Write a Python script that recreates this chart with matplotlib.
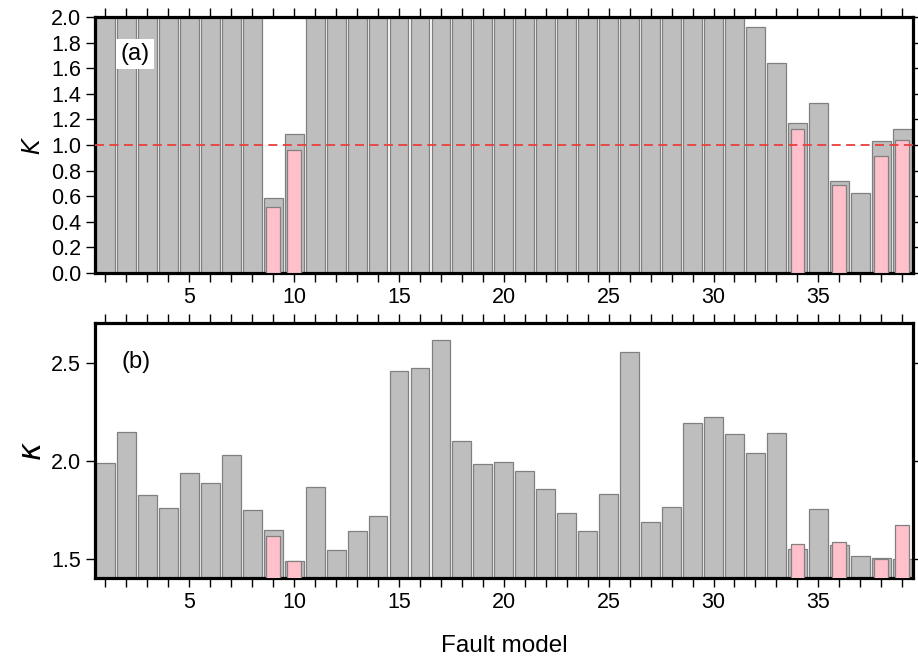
import matplotlib
matplotlib.use("Agg")
import matplotlib.pyplot as plt
import numpy as np

plt.rcParams['font.family'] = ['Liberation Sans', 'DejaVu Sans']

models = list(range(1, 40))

# Panel (a): K values (bars reaching the top are clipped above 2.0)
K_gray = [2.5, 2.5, 2.5, 2.5, 2.5, 2.5, 2.5, 2.5, 0.587, 1.084,
          2.5, 2.5, 2.5, 2.5, 2.5, 2.5, 2.5, 2.5, 2.5, 2.5,
          2.5, 2.5, 2.5, 2.5, 2.5, 2.5, 2.5, 2.5, 2.5, 2.5,
          2.5, 1.926, 1.642, 1.170, 1.326, 0.718, 0.624, 1.029, 1.125]
pink_models = [9, 10, 34, 36, 38, 39]
K_pink = [0.517, 0.963, 1.128, 0.689, 0.911, 1.039]

# Panel (b): kappa values
kappa_gray = [1.989, 2.148, 1.823, 1.760, 1.937, 1.886, 2.028, 1.749, 1.646, 1.490,
              1.865, 1.544, 1.640, 1.715, 2.459, 2.471, 2.615, 2.099, 1.982, 1.991,
              1.948, 1.854, 1.735, 1.639, 1.830, 2.551, 1.686, 1.764, 2.190, 2.222,
              2.133, 2.038, 2.141, 1.551, 1.755, 1.571, 1.512, 1.503, 1.500]
kappa_pink = [1.618, 1.488, 1.576, 1.585, 1.498, 1.673]

gray_fc = '#bebebe'
edge_c = '#808080'
pink_fc = '#ffc0cb'

fig = plt.figure(figsize=(9.18, 6.60), dpi=100)
ax1 = fig.add_axes([0.1035, 0.5868, 0.8907, 0.3870])
ax2 = fig.add_axes([0.1035, 0.1238, 0.8907, 0.3864])

def style(ax):
    for s in ax.spines.values():
        s.set_linewidth(2.3)
    ax.set_xlim(0.5, 39.5)
    ax.set_xticks(models)
    ax.set_xticklabels([str(m) if m % 5 == 0 else '' for m in models])
    ax.tick_params(axis='both', which='both', direction='out', length=6.5, width=1,
                   top=True, right=True, labeltop=False, labelright=False,
                   labelsize=15.5, pad=3.5)

# panel a
ax1.bar(models, K_gray, width=0.9, color=gray_fc, edgecolor=edge_c, linewidth=0.9, zorder=2)
ax1.bar(pink_models, K_pink, width=0.65, color=pink_fc, edgecolor=edge_c, linewidth=0.9, zorder=3)
ax1.axhline(1.0, color='#e8403f', linestyle=(0, (5, 3)), linewidth=1.3, zorder=4)
ax1.set_ylim(0, 2.0)
ax1.set_yticks(np.arange(0, 2.01, 0.2))
ax1.set_yticklabels(['%.1f' % v for v in np.arange(0, 2.01, 0.2)])
style(ax1)
ax1.set_ylabel(r'$K$', fontsize=17, labelpad=4)
ax1.text(0.049, 0.856, '(a)', transform=ax1.transAxes, fontsize=17, ha='center', va='center',
         bbox=dict(facecolor='white', edgecolor='none', pad=3), zorder=5)

# panel b
ax2.bar(models, kappa_gray, width=0.9, color=gray_fc, edgecolor=edge_c, linewidth=0.9, zorder=2)
ax2.bar(pink_models, kappa_pink, width=0.65, color=pink_fc, edgecolor=edge_c, linewidth=0.9, zorder=3)
ax2.set_ylim(1.4, 2.7)
ax2.set_yticks([1.5, 2.0, 2.5])
ax2.set_yticklabels(['1.5', '2.0', '2.5'])
style(ax2)
ax2.set_ylabel(r'$\kappa$', fontsize=22, labelpad=2)
ax2.text(0.05, 0.848, '(b)', transform=ax2.transAxes, fontsize=17, ha='center', va='center', zorder=5)
ax2.set_xlabel('Fault model', fontsize=17.5, labelpad=16)

fig.savefig('out.png', dpi=100)
